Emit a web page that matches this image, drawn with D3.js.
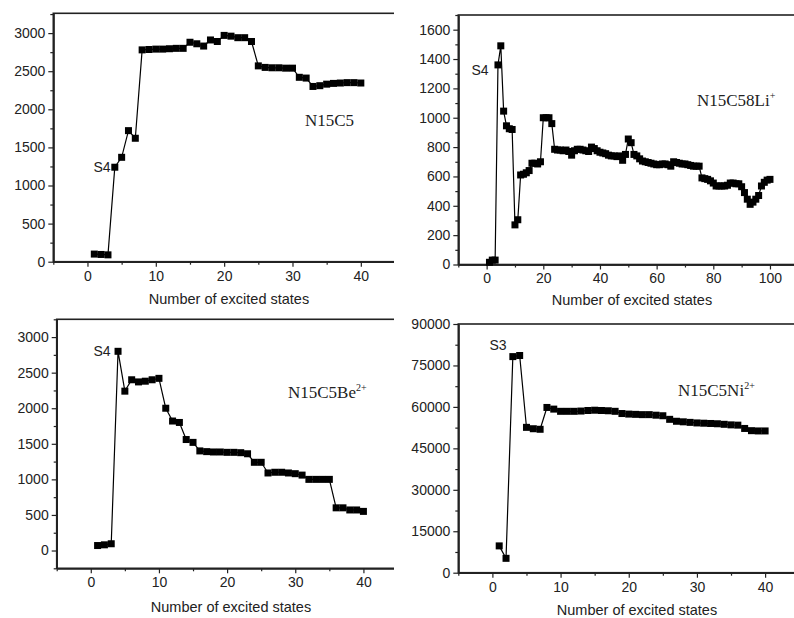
<!DOCTYPE html>
<html>
<head>
<meta charset="utf-8">
<script src="https://cdn.jsdelivr.net/npm/d3@7"></script>
<style>
  body { margin: 0; background: #fff; }
  svg { display: block; }
  .tick text { font-family: "Liberation Sans", Arial, sans-serif; }
</style>
</head>
<body>
<svg id="chart" width="794" height="618"></svg>
<script>
// values per excited state (state index = position + 1)
var n15c5 = [100, 95, 90, 1240, 1370, 1720, 1620, 2780, 2785, 2790, 2790, 2795, 2800, 2800,
  2880, 2860, 2830, 2910, 2890, 2970, 2960, 2940, 2940, 2890, 2570, 2550, 2545, 2545, 2540, 2540,
  2420, 2410, 2300, 2310, 2330, 2340, 2345, 2350, 2350, 2345];

var n15c58li = [15, 30, 30, 1360, 1490, 1045, 945, 925, 920, 270, 305, 610, 615, 625, 640, 690, 690, 685, 700,
  1000, 1000, 1000, 960, 785, 780, 780, 775, 780, 770, 745, 775, 785, 785, 780, 775, 770, 800, 790, 775, 765,
  760, 755, 745, 740, 740, 735, 740, 710, 750, 855, 830, 750, 740, 720, 705, 700, 695, 690, 685, 680,
  680, 685, 685, 680, 670, 700, 695, 690, 685, 685, 680, 675, 670, 670, 670, 590, 585, 580, 570, 555,
  535, 535, 535, 535, 540, 555, 555, 550, 550, 530, 490, 445, 410, 425, 445, 470, 535, 560, 575, 580];

var n15c5be = [70, 80, 95, 2800, 2240, 2400, 2370, 2380, 2400, 2420, 2000, 1820, 1800, 1560, 1520,
  1400, 1390, 1385, 1385, 1380, 1380, 1375, 1360, 1240, 1240, 1090, 1100, 1100, 1090, 1080, 1060,
  1000, 1000, 1000, 1000, 600, 600, 570, 570, 550];

var n15c5ni = [9700, 5200, 78200, 78600, 52600, 52100, 51900, 59800, 59200, 58400, 58400, 58400, 58500,
  58700, 58800, 58700, 58600, 58400, 57600, 57400, 57300, 57200, 57200, 57000, 56800, 55500, 54800,
  54600, 54400, 54200, 54100, 54000, 53900, 53700, 53500, 53400, 52200, 51400, 51300, 51300];

var xTitle = "Number of excited states";

var panels = [
  { data: n15c5, clip: [0, 0, 394, 310], left: 53.3, right: 395, top: 13.3, bottom: 261.7,
    xdom: [-5, 45], xticks: [0, 10, 20, 30, 40], xminor: [-5, 5, 15, 25, 35],
    ydom: [0, 3260], ystep: 500, yminorStep: 250,
    state: "S4", stateXY: [102, 172], name: ["N15C5", ""], nameXY: [305, 126], titleXY: [229, 304] },
  { data: n15c58li, clip: [400, 0, 394, 310], left: 458.3, right: 798.3, top: 15, bottom: 264.5,
    xdom: [-10, 110], xticks: [0, 20, 40, 60, 80, 100], xminor: [-10, 10, 30, 50, 70, 90],
    ydom: [0, 1700], ystep: 200, yminorStep: 100,
    state: "S4", stateXY: [480, 75], name: ["N15C58Li", "+"], nameXY: [697, 106], titleXY: [632, 305] },
  { data: n15c5be, clip: [0, 310, 394, 308], left: 56.7, right: 397.5, top: 319.3, bottom: 568.3,
    xdom: [-5, 45], xticks: [0, 10, 20, 30, 40], xminor: [-5, 5, 15, 25, 35],
    ydom: [-250, 3250], ystep: 500, yminorStep: 250,
    state: "S4", stateXY: [102, 356], name: ["N15C5Be", "2+"], nameXY: [288, 398], titleXY: [231, 612] },
  { data: n15c5ni, clip: [400, 310, 394, 308], left: 458.3, right: 799.2, top: 324, bottom: 572.7,
    xdom: [-5, 45], xticks: [0, 10, 20, 30, 40], xminor: [-5, 5, 15, 25, 35],
    ydom: [0, 90000], ystep: 15000, yminorStep: 7500,
    state: "S3", stateXY: [498, 350], name: ["N15C5Ni", "2+"], nameXY: [678, 396], titleXY: [637, 615] }
];

var svg = d3.select("#chart");

panels.forEach(function (p, k) {
  svg.append("clipPath").attr("id", "clip" + k)
    .append("rect").attr("x", p.clip[0]).attr("y", p.clip[1]).attr("width", p.clip[2]).attr("height", p.clip[3]);
  var g = svg.append("g").attr("clip-path", "url(#clip" + k + ")");

  var x = d3.scaleLinear().domain(p.xdom).range([p.left, p.right]);
  var y = d3.scaleLinear().domain(p.ydom).range([p.bottom, p.top]);

  // frame
  g.append("rect")
    .attr("x", p.left).attr("y", p.top)
    .attr("width", p.right - p.left).attr("height", p.bottom - p.top)
    .attr("fill", "none").attr("stroke", "#222").attr("stroke-width", 1.6);

  var yt = d3.range(Math.ceil(p.ydom[0] / p.ystep) * p.ystep, p.ydom[1] + 1, p.ystep);
  var ym = d3.range(Math.ceil(p.ydom[0] / p.yminorStep) * p.yminorStep, p.ydom[1] + 1, p.yminorStep)
    .filter(function (v) { return yt.indexOf(v) < 0; });

  // x axis
  g.append("g").attr("transform", "translate(0," + p.bottom + ")")
    .call(d3.axisBottom(x).tickValues(p.xticks).tickSize(5).tickSizeOuter(0).tickPadding(4));
  g.append("g").attr("transform", "translate(0," + p.bottom + ")")
    .call(d3.axisBottom(x).tickValues(p.xminor).tickSize(3).tickSizeOuter(0).tickFormat(""));
  // y axis
  g.append("g").attr("transform", "translate(" + p.left + ",0)")
    .call(d3.axisLeft(y).tickValues(yt).tickSize(5).tickSizeOuter(0).tickPadding(3).tickFormat(d3.format("d")));
  g.append("g").attr("transform", "translate(" + p.left + ",0)")
    .call(d3.axisLeft(y).tickValues(ym).tickSize(3).tickSizeOuter(0).tickFormat(""));

  g.selectAll(".domain").attr("stroke", "#222").attr("stroke-width", 1.6);
  g.selectAll(".tick line").attr("stroke", "#222").attr("stroke-width", 1.2);
  g.selectAll(".tick text").attr("font-size", 14).attr("fill", "#222");

  // axis title
  g.append("text")
    .attr("x", p.titleXY[0]).attr("y", p.titleXY[1])
    .attr("text-anchor", "middle")
    .attr("font-family", "Liberation Sans, Arial, sans-serif")
    .attr("font-size", 14.5).attr("fill", "#222")
    .text(xTitle);

  // series
  var line = d3.line()
    .x(function (d, i) { return x(i + 1); })
    .y(function (d) { return y(d); });
  g.append("path").datum(p.data)
    .attr("d", line).attr("fill", "none").attr("stroke", "#000").attr("stroke-width", 1.2);
  var ms = 7;
  g.selectAll(".pt").data(p.data).join("rect")
    .attr("class", "pt")
    .attr("x", function (d, i) { return x(i + 1) - ms / 2; })
    .attr("y", function (d) { return y(d) - ms / 2; })
    .attr("width", ms).attr("height", ms)
    .attr("fill", "#000");

  // labels
  g.append("text")
    .attr("x", p.stateXY[0]).attr("y", p.stateXY[1])
    .attr("text-anchor", "middle")
    .attr("font-family", "Liberation Sans, Arial, sans-serif")
    .attr("font-size", 14).attr("fill", "#222")
    .text(p.state);
  var nt = g.append("text")
    .attr("x", p.nameXY[0]).attr("y", p.nameXY[1])
    .attr("font-family", "Liberation Serif, Times New Roman, serif")
    .attr("font-size", 17).attr("fill", "#222");
  nt.append("tspan").text(p.name[0]);
  if (p.name[1]) {
    nt.append("tspan").attr("dy", -7).attr("font-size", 10).text(p.name[1]);
  }
});
</script>
</body>
</html>
